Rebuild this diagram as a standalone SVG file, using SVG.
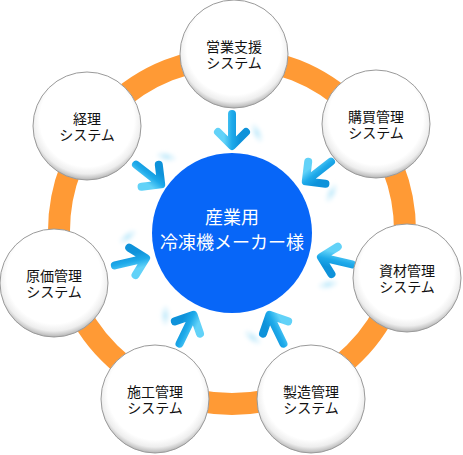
<svg xmlns="http://www.w3.org/2000/svg" width="463" height="455" viewBox="0 0 463 455">
<defs>
<radialGradient id="nodeFill" cx="50%" cy="44%" r="56%">
<stop offset="0" stop-color="#ffffff"/>
<stop offset="0.78" stop-color="#ffffff"/>
<stop offset="0.9" stop-color="#eeeeee"/>
<stop offset="1" stop-color="#b5b5b5"/>
</radialGradient>
<linearGradient id="arrowGrad" gradientUnits="userSpaceOnUse" x1="-8" y1="0" x2="8" y2="0">
<stop offset="0" stop-color="#62d2f8"/>
<stop offset="0.5" stop-color="#1eaaea"/>
<stop offset="1" stop-color="#0e92da"/>
</linearGradient>
<radialGradient id="ghostGrad" cx="50%" cy="50%" r="50%">
<stop offset="0" stop-color="#b9e7fa" stop-opacity="0.9"/>
<stop offset="1" stop-color="#d8f2fc" stop-opacity="0"/>
</radialGradient>
<filter id="soft" x="-50%" y="-50%" width="200%" height="200%">
<feGaussianBlur stdDeviation="1.5"/>
</filter>
<g id="arrow">
<ellipse cx="25" cy="-14" rx="6" ry="12" transform="rotate(-25 25 -14)" fill="url(#ghostGrad)" filter="url(#soft)"/>
<path d="M0,-33 L0,-2 M-14,-15 L0,-1 L14,-15" fill="none" stroke="url(#arrowGrad)" stroke-width="8" stroke-linecap="round" stroke-linejoin="round"/>
</g>
</defs>
<style>
.ring{fill:none;stroke:#ff9a35;stroke-width:22}
.node{fill:url(#nodeFill);stroke:#9a9a9a;stroke-width:1}
.lbl{font-family:"Liberation Sans","Noto Sans CJK JP",sans-serif;font-size:14px;fill:#111;text-anchor:middle}
.ctr{font-family:"Liberation Sans","Noto Sans CJK JP",sans-serif;font-size:18px;fill:#ffffff;text-anchor:middle}
</style>
<rect width="463" height="455" fill="#ffffff"/>
<circle class="ring" cx="232" cy="231" r="173"/>
<g id="connectors">
<use href="#arrow" transform="translate(232,147) rotate(0)"/>
<use href="#arrow" transform="translate(305,182) rotate(52)"/>
<use href="#arrow" transform="translate(320,257) rotate(103)"/>
<use href="#arrow" transform="translate(269,314) rotate(154)"/>
<use href="#arrow" transform="translate(194,314) rotate(206)"/>
<use href="#arrow" transform="translate(147,258) rotate(257)"/>
<use href="#arrow" transform="translate(162,185) rotate(-52)"/>
</g>
<g id="center">
<circle cx="232" cy="233" r="80" fill="#0766f8"/>
<text class="ctr" x="232" y="224">産業用<tspan x="232" dy="25">冷凍機メーカー様</tspan></text>
</g>
<g id="n-eigyo">
<circle class="node" cx="234" cy="54" r="54"/>
<text class="lbl" x="234" y="51.5">営業支援<tspan x="234" dy="16">システム</tspan></text>
</g>
<g id="n-kobai">
<circle class="node" cx="376" cy="124" r="54"/>
<text class="lbl" x="376" y="121.5">購買管理<tspan x="376" dy="16">システム</tspan></text>
</g>
<g id="n-shizai">
<circle class="node" cx="407" cy="278" r="54"/>
<text class="lbl" x="407" y="275.5">資材管理<tspan x="407" dy="16">システム</tspan></text>
</g>
<g id="n-seizo">
<circle class="node" cx="311" cy="399" r="54"/>
<text class="lbl" x="311" y="396.5">製造管理<tspan x="311" dy="16">システム</tspan></text>
</g>
<g id="n-seko">
<circle class="node" cx="155" cy="399" r="54"/>
<text class="lbl" x="155" y="396.5">施工管理<tspan x="155" dy="16">システム</tspan></text>
</g>
<g id="n-genka">
<circle class="node" cx="54" cy="283" r="54"/>
<text class="lbl" x="54" y="280.5">原価管理<tspan x="54" dy="16">システム</tspan></text>
</g>
<g id="n-keiri">
<circle class="node" cx="87" cy="126" r="54"/>
<text class="lbl" x="87" y="123.5">経理<tspan x="87" dy="16">システム</tspan></text>
</g>
</svg>
